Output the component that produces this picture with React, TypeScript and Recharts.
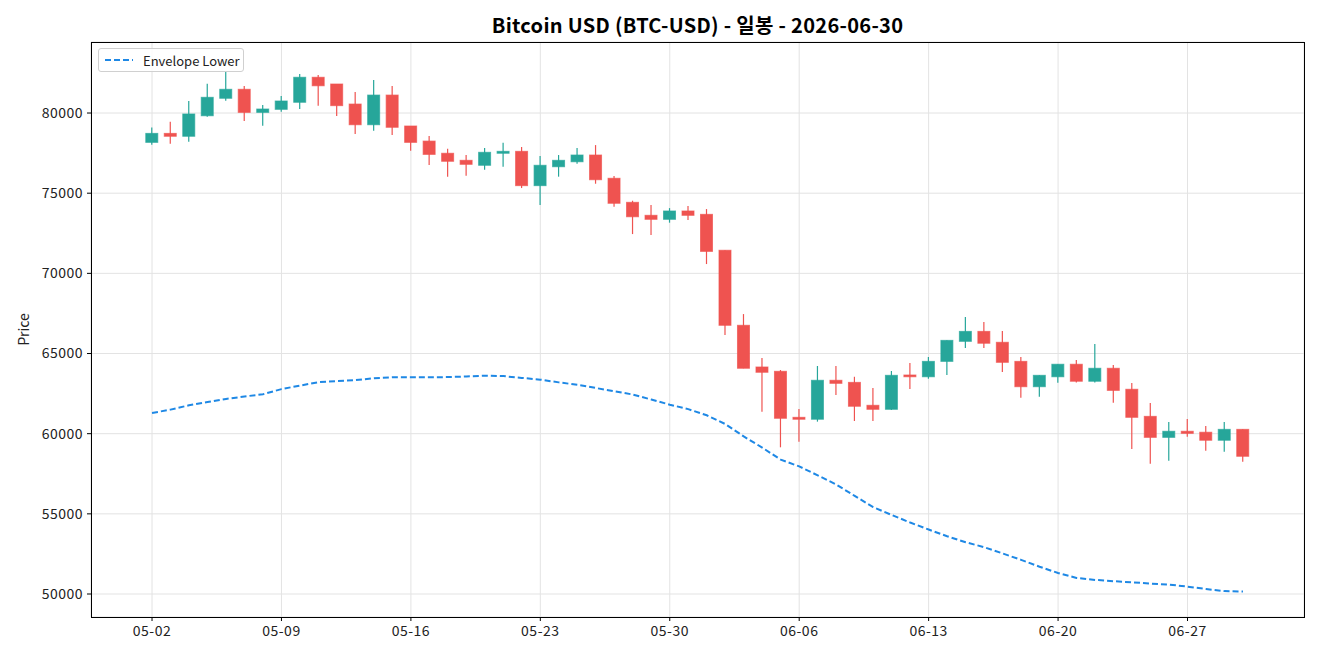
import React from 'react';
import { ComposedChart, Bar, Line, XAxis, YAxis, CartesianGrid } from 'recharts';

const dates = [
  '05-02','05-03','05-04','05-05','05-06','05-07','05-08','05-09','05-10','05-11',
  '05-12','05-13','05-14','05-15','05-16','05-17','05-18','05-19','05-20','05-21',
  '05-22','05-23','05-24','05-25','05-26','05-27','05-28','05-29','05-30','05-31',
  '06-01','06-02','06-03','06-04','06-05','06-06','06-07','06-08','06-09','06-10',
  '06-11','06-12','06-13','06-14','06-15','06-16','06-17','06-18','06-19','06-20',
  '06-21','06-22','06-23','06-24','06-25','06-26','06-27','06-28','06-29','06-30',
];

const opens = [
  78170, 78730, 78550, 79830, 80920, 81480, 80040, 80230, 80670, 82230,
  81810, 80560, 79270, 81120, 79190, 78250, 77490, 77050, 76740, 77490,
  77610, 75470, 76650, 76960, 77380, 75930, 74430, 73620, 73370, 73890,
  73680, 71440, 66760, 64160, 63890, 61020, 60900, 63330, 63200, 61770,
  61520, 63660, 63550, 64510, 65760, 66380, 65700, 64510, 62930, 63550,
  64330, 63270, 64080, 62770, 61080, 59770, 60150, 60090, 59590, 60270,
];
const highs = [
  79100, 79450, 80750, 81830, 82560, 81680, 80500, 81060, 82430, 82370,
  81810, 81310, 82060, 81680, 79190, 78570, 77770, 77380, 77820, 78150,
  77880, 77320, 77380, 77820, 78000, 76070, 74530, 74260, 74070, 74200,
  74010, 71440, 67460, 64720, 63970, 61540, 64220, 64220, 63550, 62850,
  63910, 64410, 64780, 65820, 67280, 66960, 66400, 64780, 63640, 64330,
  64590, 65590, 64280, 63160, 61910, 60730, 60910, 60480, 60730, 60270,
];
const lows = [
  78020, 78080, 78210, 79770, 80770, 79500, 79210, 80080, 80250, 80460,
  79810, 78690, 78900, 78630, 77650, 76760, 76030, 76090, 76460, 76650,
  75320, 74260, 76030, 76840, 75590, 74160, 72450, 72390, 73160, 73330,
  70580, 66150, 64080, 61370, 59150, 59500, 60750, 62410, 60790, 60790,
  61480, 62790, 63430, 63660, 65340, 65340, 63850, 62240, 62310, 63180,
  63200, 63200, 61930, 59040, 58130, 58310, 59810, 58940, 58880, 58250,
];
const closes = [
  78730, 78550, 79940, 80980, 81480, 80040, 80250, 80750, 82230, 81700,
  80460, 79270, 81120, 79110, 78170, 77420, 76990, 76800, 77550, 77610,
  75470, 76740, 77050, 77380, 75840, 74370, 73530, 73370, 73890, 73620,
  71370, 66760, 64080, 63830, 60960, 60900, 63330, 63140, 61710, 61520,
  63640, 63550, 64510, 65820, 66380, 65640, 64450, 62930, 63640, 64330,
  63270, 64080, 62700, 61020, 59770, 60150, 60020, 59590, 60270, 58590,
];
const envelopeLower = [
  61290, 61500, 61770, 61970, 62170, 62320, 62460, 62780, 63000, 63210,
  63280, 63340, 63460, 63520, 63520, 63520, 63530, 63570, 63620, 63590,
  63480, 63370, 63200, 63050, 62850, 62650, 62440, 62130, 61810, 61530,
  61150, 60600, 59830, 59130, 58380, 57960, 57400, 56830, 56120, 55420,
  54930, 54460, 54020, 53600, 53230, 52920, 52530, 52130, 51700, 51310,
  51000, 50880, 50800, 50730, 50650, 50590, 50460, 50310, 50180, 50150,
];

const xTickIdx = [0, 7, 14, 21, 28, 35, 42, 49, 56];
const yTicks = [50000, 55000, 60000, 65000, 70000, 75000, 80000];

const UP = '#26a69a';
const DOWN = '#ef5350';
const ENV = '#1e88e5';
const FONT = '"Noto Sans CJK KR", "Noto Sans", sans-serif';

const data = dates.map((d, i) => ({
  i,
  date: d,
  open: opens[i],
  high: highs[i],
  low: lows[i],
  close: closes[i],
  env: envelopeLower[i],
}));

const Candle = (props: any) => {
  const { x, y, width, height, payload } = props;
  if (!payload || height == null) return null;
  const { open, close, high, low } = payload;
  const ratio = height / Math.max(high - low, 1e-9);
  const yOf = (v: number) => y + (high - v) * ratio;
  const color = close >= open ? UP : DOWN;
  const top = yOf(Math.max(open, close));
  const bot = yOf(Math.min(open, close));
  const cx = x + width / 2;
  return (
    <g>
      <line x1={cx} x2={cx} y1={y} y2={y + height} stroke={color} strokeWidth={1.2} />
      <rect
        x={x}
        y={top}
        width={width}
        height={Math.max(bot - top, 1.5)}
        fill={color}
        stroke={color}
        strokeOpacity={0.7}
        strokeWidth={1}
      />
    </g>
  );
};

export default function App() {
  return (
    <div style={{ position: 'absolute', left: 0, top: 0, width: 1320, height: 660, background: '#fff' }}>
      <div
        style={{
          position: 'absolute',
          left: 91,
          width: 1213,
          top: 11,
          textAlign: 'center',
          fontFamily: FONT,
          fontWeight: 700,
          fontSize: 20,
          letterSpacing: 0.3,
          color: '#000',
          lineHeight: '28px',
        }}
      >
        Bitcoin USD (BTC-USD) - 일봉 - 2026-06-30
      </div>
      <ComposedChart
        width={1320}
        height={660}
        data={data}
        margin={{ top: 42, right: 16, left: 0, bottom: 0 }}
        style={{ fontFamily: FONT }}
      >
        <CartesianGrid xAxisId="main" yAxisId="main" stroke="#e3e3e3" strokeWidth={1} />
        <XAxis
          xAxisId="main"
          dataKey="i"
          type="number"
          domain={[-3.3, 62.3]}
          allowDataOverflow
          ticks={xTickIdx}
          tickFormatter={(v: number) => dates[v] ?? ''}
          height={43}
          axisLine={false}
          tickLine={{ stroke: '#000' }}
          tickSize={4}
          tick={{ fill: '#222', fontSize: 14, letterSpacing: 0.5, dy: 3 }}
          interval={0}
        />
        <YAxis
          yAxisId="main"
          type="number"
          domain={[48566, 84430]}
          allowDataOverflow
          ticks={yTicks}
          width={91}
          axisLine={false}
          tickLine={{ stroke: '#000' }}
          tickSize={4}
          tick={{ fill: '#222', fontSize: 14, letterSpacing: 0.5, dx: -2 }}
          interval={0}
          label={{ value: 'Price', angle: -90, position: 'insideLeft', offset: 24, style: { textAnchor: 'middle', fill: '#222', fontSize: 14 } }}
        />
        <Bar
          xAxisId="main"
          yAxisId="main"
          dataKey={(d: any) => [d.low, d.high]}
          barSize={12}
          shape={Candle}
          isAnimationActive={false}
          legendType="none"
        />
        <Line
          xAxisId="main"
          yAxisId="main"
          dataKey="env"
          type="linear"
          stroke={ENV}
          strokeWidth={2}
          strokeDasharray="6 3"
          dot={false}
          activeDot={false}
          isAnimationActive={false}
          name="Envelope Lower"
        />
      </ComposedChart>
      <div
        style={{
          position: 'absolute',
          left: 91,
          top: 42,
          width: 1214,
          height: 576,
          boxSizing: 'border-box',
          border: '1px solid #000',
          pointerEvents: 'none',
        }}
      />
      <div
        style={{
          position: 'absolute',
          left: 98,
          top: 48,
          width: 146,
          height: 24,
          boxSizing: 'border-box',
          border: '1px solid #d0d0d0',
          borderRadius: 3,
          background: 'rgba(255,255,255,0.85)',
          display: 'flex',
          alignItems: 'center',
          paddingLeft: 6,
          fontFamily: FONT,
          fontSize: 13,
          color: '#222',
        }}
      >
        <svg width={28} height={10} style={{ marginRight: 10 }}>
          <line x1={0} x2={28} y1={5} y2={5} stroke={ENV} strokeWidth={2} strokeDasharray="6 3" />
        </svg>
        <span>Envelope Lower</span>
      </div>
    </div>
  );
}
